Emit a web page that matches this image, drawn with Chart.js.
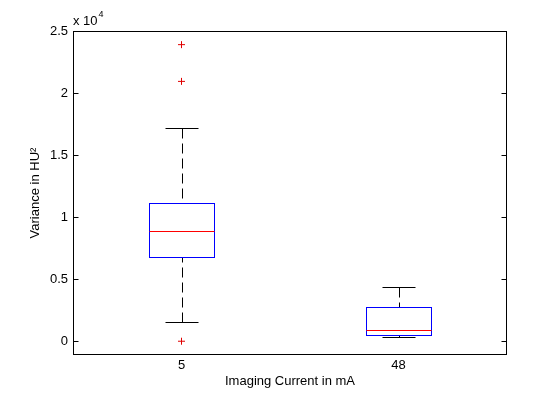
<!doctype html>
<html lang="en">

<head>
  <meta charset="utf-8">
  <title>Variance vs imaging current</title>

  <!-- chart js -->
  <script src="https://cdn.jsdelivr.net/npm/chart.js@4.4.1/dist/chart.umd.min.js"></script>

  <style type="text/css">
    body {
      margin: 0;
      background: #fff;
    }
  </style>
</head>

<body>
  <canvas id="myChart" width="560" height="420"></canvas>

  <script>
    // categories on the x axis (imaging current in mA)
    const categories = ['5', '48'];

    // box statistics, one value per category
    const lowerWhisker = [1530, 350];
    const quartile1 = [6770, 480];
    const medians = [8870, 890];
    const quartile3 = [11130, 2740];
    const upperWhisker = [17150, 4380];

    // outliers: which category (index) and value
    const outlierGroup = [0, 0, 0];
    const outlierValues = [23900, 20940, 0];

    // y axis ticks (values are shown scaled by 10^4)
    const yTicks = [0, 5000, 10000, 15000, 20000, 25000];
    const yTickLabels = ['0', '0.5', '1', '1.5', '2', '2.5'];

    const boxHalf = 0.152;
    const capHalf = 0.075;

    Chart.defaults.font.family = '"Liberation Sans", Arial, sans-serif';
    Chart.defaults.font.size = 13;
    Chart.defaults.color = '#000';

    const crisp = v => Math.round(v) + 0.5;

    function line(ctx, x1, y1, x2, y2) {
      ctx.beginPath();
      ctx.moveTo(x1, y1);
      ctx.lineTo(x2, y2);
      ctx.stroke();
    }

    // draws the boxes, whiskers and medians with the chart's scales
    const boxPlugin = {
      id: 'boxes',
      beforeDatasetsDraw(chart) {
        const ctx = chart.ctx;
        const x = chart.scales.x;
        const y = chart.scales.y;
        ctx.save();
        ctx.lineWidth = 1;
        for (let i = 0; i < categories.length; i++) {
          const pos = i + 1;
          const mid = crisp(x.getPixelForValue(pos));
          const bl = crisp(x.getPixelForValue(pos - boxHalf));
          const br = crisp(x.getPixelForValue(pos + boxHalf));
          const cl = crisp(x.getPixelForValue(pos - capHalf));
          const cr = crisp(x.getPixelForValue(pos + capHalf));
          const yLow = crisp(y.getPixelForValue(lowerWhisker[i]));
          const yQ1 = crisp(y.getPixelForValue(quartile1[i]));
          const yMed = crisp(y.getPixelForValue(medians[i]));
          const yQ3 = crisp(y.getPixelForValue(quartile3[i]));
          const yUp = crisp(y.getPixelForValue(upperWhisker[i]));

          // whiskers
          ctx.strokeStyle = '#000';
          ctx.setLineDash([10, 5]);
          line(ctx, mid, yUp, mid, yQ3);
          line(ctx, mid, yLow, mid, yQ1);
          ctx.setLineDash([]);
          line(ctx, cl, yUp, cr, yUp);
          line(ctx, cl, yLow, cr, yLow);

          // box
          ctx.strokeStyle = '#0000ff';
          ctx.strokeRect(bl, yQ3, br - bl, yQ1 - yQ3);

          // median
          ctx.strokeStyle = '#ff0000';
          line(ctx, bl, yMed, br, yMed);
        }
        ctx.restore();
      },
      afterDraw(chart) {
        const ctx = chart.ctx;
        const a = chart.chartArea;
        const y = chart.scales.y;
        const l = crisp(a.left), r = crisp(a.right - 1);
        const t = crisp(a.top), b = crisp(a.bottom - 1);
        ctx.save();
        ctx.strokeStyle = '#000';
        ctx.lineWidth = 1;
        ctx.strokeRect(l, t, r - l, b - t);

        // inward y ticks on left and right
        y.ticks.forEach(tk => {
          const py = crisp(y.getPixelForValue(tk.value));
          line(ctx, l, py, l + 5, py);
          line(ctx, r, py, r - 5, py);
        });

        // exponent label
        ctx.fillStyle = '#000';
        ctx.textBaseline = 'alphabetic';
        ctx.textAlign = 'left';
        ctx.font = '13px "Liberation Sans", Arial, sans-serif';
        ctx.fillText('x 10', a.left, 25);
        const w = ctx.measureText('x 10').width;
        ctx.font = '9px "Liberation Sans", Arial, sans-serif';
        ctx.fillText('4', a.left + w + 1, 17);
        ctx.restore();
      }
    };

    const ctx = document.getElementById('myChart').getContext('2d');
    const myChart = new Chart(ctx, {
      type: 'scatter',
      data: {
        datasets: [{
          label: 'outliers',
          data: outlierValues.map((v, k) => ({ x: outlierGroup[k] + 1, y: v })),
          pointStyle: 'cross',
          pointRadius: 3.5,
          pointHoverRadius: 3.5,
          borderColor: '#e00000',
          backgroundColor: '#e00000',
          borderWidth: 1
        }]
      },
      options: {
        responsive: false,
        animation: false,
        layout: {
          padding: { top: 31, right: 53, left: 0, bottom: 0 }
        },
        plugins: {
          legend: { display: false },
          tooltip: { enabled: false }
        },
        scales: {
          x: {
            type: 'linear',
            min: 0.5,
            max: 2.5,
            grid: { display: false, drawTicks: false },
            border: { display: false },
            afterBuildTicks: scale => {
              scale.ticks = categories.map((c, i) => ({ value: i + 1 }));
            },
            afterFit: scale => { scale.height = 65; },
            ticks: {
              padding: 3,
              maxRotation: 0,
              callback: value => categories[value - 1]
            },
            title: {
              display: true,
              text: 'Imaging Current in mA',
              padding: { top: 0, bottom: 31 }
            }
          },
          y: {
            min: -1110,
            max: 25000,
            grid: { display: false, drawTicks: false },
            border: { display: false },
            afterBuildTicks: scale => {
              scale.ticks = yTicks.map(v => ({ value: v }));
            },
            afterFit: scale => { scale.width = 73; },
            ticks: {
              padding: 5,
              callback: value => yTickLabels[yTicks.indexOf(value)]
            },
            title: {
              display: true,
              text: 'Variance in HU²',
              padding: { top: 28, bottom: 0 }
            }
          }
        }
      },
      plugins: [boxPlugin]
    });
  </script>
</body>

</html>
